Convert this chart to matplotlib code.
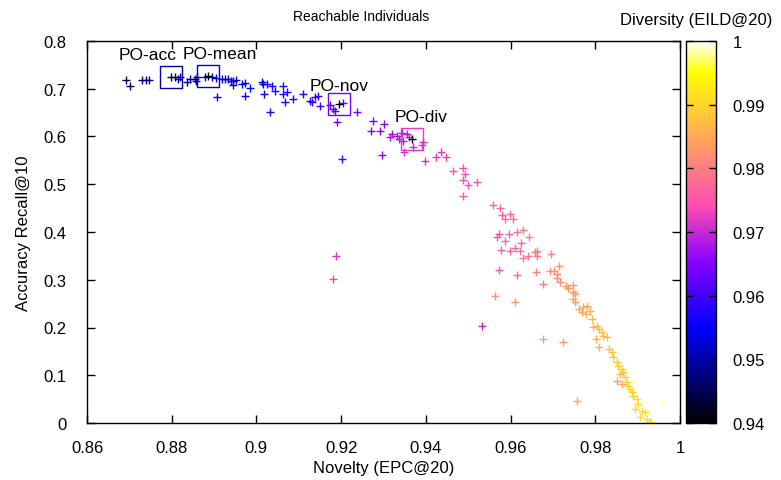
import numpy as np
import matplotlib
matplotlib.use('Agg')
import matplotlib.pyplot as plt
from matplotlib.colors import ListedColormap, Normalize

# reachable individuals: novelty (EPC@20), accuracy (Recall@10), diversity (EILD@20)
novelty = [0.8692, 0.8702, 0.8730, 0.8739, 0.8746, 0.8808, 0.8815, 0.8820, 0.8836, 0.8843,
           0.8855, 0.8860, 0.8857, 0.8879, 0.8895, 0.8905, 0.8907, 0.8919, 0.8926, 0.8933,
           0.8940, 0.8945, 0.8952, 0.8945, 0.8966, 0.8973, 0.8985, 0.8973, 0.9013, 0.9016,
           0.9025, 0.9037, 0.9018, 0.9044, 0.9063, 0.9063, 0.9072, 0.9067, 0.9086, 0.9110,
           0.9032, 0.9126, 0.9131, 0.9138, 0.9145, 0.9150, 0.9174, 0.9181, 0.9204, 0.9186,
           0.9190, 0.9238, 0.9202, 0.9275, 0.9270, 0.9292, 0.9301, 0.9296, 0.9320, 0.9315,
           0.9332, 0.9344, 0.9337, 0.9346, 0.9356, 0.9360, 0.9370, 0.9393, 0.9391, 0.9348,
           0.9398, 0.9424, 0.9436, 0.9448, 0.9464, 0.9488, 0.9492, 0.9488, 0.9500, 0.9521,
           0.9488, 0.9188, 0.9181, 0.9533, 0.9559, 0.9575, 0.9580, 0.9587, 0.9599, 0.9606,
           0.9573, 0.9568, 0.9587, 0.9596, 0.9615, 0.9629, 0.9644, 0.9577, 0.9599, 0.9610,
           0.9622, 0.9625, 0.9629, 0.9641, 0.9658, 0.9662, 0.9662, 0.9696, 0.9573, 0.9615,
           0.9660, 0.9677, 0.9693, 0.9703, 0.9710, 0.9714, 0.9710, 0.9717, 0.9731, 0.9736,
           0.9748, 0.9748, 0.9752, 0.9563, 0.9610, 0.9677, 0.9724, 0.9757, 0.9748, 0.9752,
           0.9762, 0.9771, 0.9780, 0.9769, 0.9788, 0.9778, 0.9792, 0.9795, 0.9804, 0.9809,
           0.9816, 0.9818, 0.9828, 0.9802, 0.9809, 0.9832, 0.9840, 0.9842, 0.9851, 0.9854,
           0.9863, 0.9866, 0.9858, 0.9870, 0.9851, 0.9863, 0.9875, 0.9877, 0.9882, 0.9887,
           0.9889, 0.9898, 0.9901, 0.9894, 0.9910, 0.9917, 0.9906, 0.9922, 0.9927, 0.9931,
           0.9957, 0.9889]
recall = [0.7183, 0.7058, 0.7183, 0.7183, 0.7183, 0.7246, 0.7204, 0.7246, 0.7141, 0.7204,
          0.7204, 0.7246, 0.7162, 0.7246, 0.7246, 0.7225, 0.6827, 0.7204, 0.7204, 0.7204,
          0.7162, 0.7162, 0.7183, 0.7079, 0.7099, 0.7120, 0.7016, 0.6848, 0.7141, 0.7099,
          0.7099, 0.7058, 0.6890, 0.6953, 0.7058, 0.6890, 0.6932, 0.6723, 0.6785, 0.6890,
          0.6513, 0.6743, 0.6723, 0.6827, 0.6848, 0.6639, 0.6660, 0.6576, 0.6702, 0.6534,
          0.6304, 0.6513, 0.5529, 0.6325, 0.6115, 0.6115, 0.6262, 0.5613, 0.6052, 0.5990,
          0.6010, 0.6073, 0.5948, 0.5906, 0.6052, 0.5990, 0.5780, 0.5885, 0.5822, 0.5675,
          0.5487, 0.5571, 0.5675, 0.5571, 0.5277, 0.5340, 0.5215, 0.5089, 0.4984, 0.5047,
          0.4754, 0.3497, 0.3016, 0.2031, 0.4565, 0.4503, 0.4356, 0.4272, 0.4377, 0.4272,
          0.3958, 0.3895, 0.3812, 0.3958, 0.4000, 0.4042, 0.3895, 0.3623, 0.3602, 0.3665,
          0.3602, 0.3770, 0.3455, 0.3497, 0.3581, 0.3602, 0.3497, 0.3539, 0.3204, 0.3099,
          0.3162, 0.2911, 0.3183, 0.3183, 0.3120, 0.3288, 0.3037, 0.2953, 0.2869, 0.2827,
          0.2890, 0.2743, 0.2702, 0.2660, 0.2534, 0.1759, 0.1696, 0.0461, 0.2597, 0.2534,
          0.2387, 0.2429, 0.2450, 0.2325, 0.2346, 0.2283, 0.2178, 0.2010, 0.2031, 0.1969,
          0.1906, 0.1822, 0.1801, 0.1759, 0.1592, 0.1550, 0.1487, 0.1382, 0.1277, 0.1194,
          0.1131, 0.1068, 0.1026, 0.0963, 0.0880, 0.0817, 0.0859, 0.0775, 0.0712, 0.0649,
          0.0565, 0.0503, 0.0398, 0.0293, 0.0251, 0.0230, 0.0126, 0.0084, 0.0021, 0.0021,
          0.0440, 0.0880]
diversity = [0.945, 0.945, 0.947, 0.947, 0.948, 0.949, 0.949, 0.950, 0.950, 0.950,
             0.951, 0.951, 0.951, 0.952, 0.952, 0.952, 0.955, 0.952, 0.953, 0.953,
             0.953, 0.953, 0.953, 0.953, 0.954, 0.954, 0.955, 0.955, 0.955, 0.955,
             0.955, 0.956, 0.956, 0.956, 0.957, 0.957, 0.957, 0.957, 0.958, 0.958,
             0.957, 0.959, 0.959, 0.959, 0.959, 0.960, 0.961, 0.961, 0.962, 0.962,
             0.962, 0.964, 0.960, 0.965, 0.965, 0.966, 0.965, 0.966, 0.967, 0.967,
             0.967, 0.968, 0.968, 0.968, 0.968, 0.969, 0.970, 0.971, 0.971, 0.971,
             0.971, 0.972, 0.972, 0.972, 0.974, 0.974, 0.974, 0.974, 0.975, 0.975,
             0.975, 0.971, 0.973, 0.969, 0.977, 0.977, 0.976, 0.977, 0.978, 0.978,
             0.975, 0.975, 0.977, 0.977, 0.978, 0.979, 0.980, 0.977, 0.977, 0.977,
             0.978, 0.977, 0.979, 0.979, 0.979, 0.980, 0.979, 0.981, 0.975, 0.977,
             0.980, 0.980, 0.982, 0.982, 0.982, 0.983, 0.982, 0.982, 0.983, 0.983,
             0.983, 0.983, 0.984, 0.982, 0.983, 0.984, 0.984, 0.985, 0.984, 0.984,
             0.985, 0.985, 0.985, 0.985, 0.986, 0.986, 0.986, 0.986, 0.987, 0.987,
             0.987, 0.987, 0.987, 0.986, 0.986, 0.988, 0.988, 0.988, 0.989, 0.989,
             0.989, 0.989, 0.986, 0.989, 0.984, 0.985, 0.990, 0.990, 0.990, 0.990,
             0.990, 0.991, 0.991, 0.991, 0.991, 0.992, 0.991, 0.992, 0.992, 0.992,
             0.999, 0.998]

# selected individuals
po_names = ['PO-acc', 'PO-mean', 'PO-nov', 'PO-div']
po_novelty = [0.8798, 0.8886, 0.9195, 0.9367]
po_recall = [0.7246, 0.7267, 0.6681, 0.5948]
po_diversity = [0.950, 0.953, 0.964, 0.972]
po_label_offset = [(-16.5, 16.5), (8.5, 16), (0, 13.5), (6.5, 16.5)]


# gnuplot rgbformulae 30,31,32 (black-blue-violet-yellow-white)
def bbvyw(n=256):
    t = np.linspace(0, 1, n)
    r = np.clip(t / 0.32 - 0.78125, 0, 1)
    g = np.clip(2 * t - 0.84, 0, 1)
    b = np.where(t < 0.25, 4 * t,
        np.where(t < 0.42, 1.0,
        np.where(t < 0.92, -2 * t + 1.84, t / 0.08 - 11.5)))
    b = np.clip(b, 0, 1)
    return ListedColormap(np.column_stack([r, g, b]))


plt.rcParams['font.family'] = ['Liberation Sans', 'DejaVu Sans']
cmap = bbvyw()
norm = Normalize(0.94, 1.0)

fig = plt.figure(figsize=(7.81, 4.81), dpi=100)
ax = fig.add_axes([87 / 781, 57 / 481, 593 / 781, 382 / 481])
cax = fig.add_axes([686 / 781, 57 / 481, 30 / 781, 382 / 481])

sc = ax.scatter(novelty, recall, c=diversity, cmap=cmap, norm=norm,
                marker='+', s=34, linewidths=1.0, zorder=2)
ax.scatter(po_novelty, po_recall, marker='s', s=255, facecolors='none',
           edgecolors=cmap(norm(po_diversity)), linewidths=1.0, zorder=3)
ax.scatter(po_novelty, po_recall, c='black', marker='+', s=34,
           linewidths=1.0, zorder=4)
for name, x, y, off in zip(po_names, po_novelty, po_recall, po_label_offset):
    ax.annotate(name, (x, y), xytext=off, textcoords='offset points',
                ha='center', va='center', fontsize=12.5)

ax.set_xlim(0.86, 1.0)
ax.set_ylim(0, 0.8)
ax.set_xticks(np.arange(0.86, 1.001, 0.02))
ax.set_xticklabels(['0.86', '0.88', '0.9', '0.92', '0.94', '0.96', '0.98', '1'])
ax.set_yticks(np.arange(0, 0.801, 0.1))
ax.set_yticklabels(['0', '0.1', '0.2', '0.3', '0.4', '0.5', '0.6', '0.7', '0.8'])
ax.tick_params(direction='in', length=6, width=1, top=True, right=True,
               labelsize=12)
ax.tick_params(axis='y', pad=15)
ax.tick_params(axis='x', pad=12)
for s in ax.spines.values():
    s.set_linewidth(1)
ax.set_xlabel('Novelty (EPC@20)', fontsize=12, labelpad=4)
ax.set_ylabel('Accuracy Recall@10', fontsize=12, labelpad=9)

cb = fig.colorbar(sc, cax=cax)
cb.set_ticks([0.94, 0.95, 0.96, 0.97, 0.98, 0.99, 1.0])
cb.set_ticklabels(['0.94', '0.95', '0.96', '0.97', '0.98', '0.99', '1'])
cax.tick_params(direction='in', length=5, width=1, left=True, right=True,
                labelsize=12, pad=12)
cb.outline.set_linewidth(1)

fig.text(361 / 781, 1 - 17 / 481, 'Reachable Individuals', ha='center',
         va='center', fontsize=10)
fig.text(696 / 781, 1 - 20 / 481, 'Diversity (EILD@20)', ha='center',
         va='center', fontsize=12)

fig.savefig('out.png', dpi=100)
